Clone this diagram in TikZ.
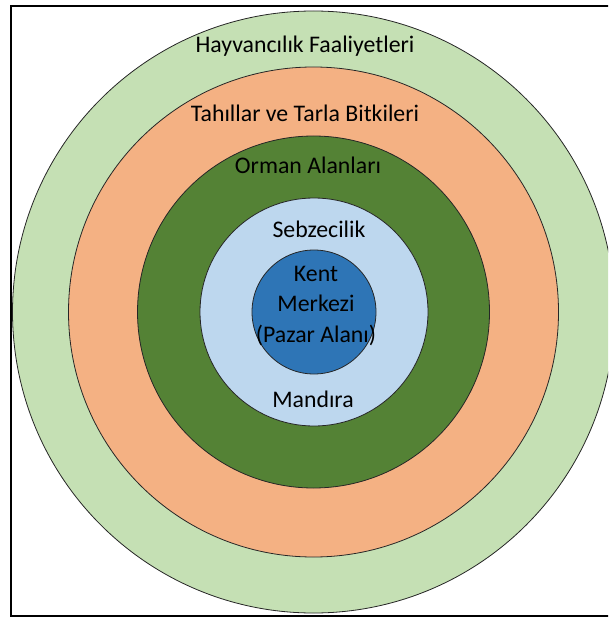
\documentclass[tikz,border=0pt]{standalone}
\usepackage{fontspec}
\setmainfont{Carlito}
\usepackage{xcolor}
\definecolor{hayvan}{HTML}{C5E0B4}
\definecolor{tahil}{HTML}{F4B183}
\definecolor{orman}{HTML}{548235}
\definecolor{sebze}{HTML}{BDD7EE}
\definecolor{kent}{HTML}{2E75B6}

\begin{document}
\begin{tikzpicture}[x=1pt,y=-1pt,
  ring/.style={circle,draw=black!85,line width=0.8pt,inner sep=0pt,minimum size=#1},
  lbl/.style={font=\fontsize{23.8}{30.5}\selectfont,text=black,inner sep=0pt,align=center}]
  \useasboundingbox (0,0) rectangle (608,617);
  \clip (0,0) rectangle (608,617);
  % frame
  \draw[line width=2pt] (11,6) rectangle (640,616);
  % rings, outside in
  \node[ring=602,fill=hayvan] (hayvanring) at (313.5,312) {};
  \node[ring=490,fill=tahil]  (tahilring)  at (313.5,312) {};
  \node[ring=352,fill=orman]  (ormanring)  at (313.5,312) {};
  \node[ring=228,fill=sebze]  (sebzering)  at (314,312) {};
  \node[ring=124,fill=kent]   (kentring)   at (314,312) {};
  % labels
  \node[lbl] (hayvanlbl) at (305,46)  {Hayvancılık Faaliyetleri};
  \node[lbl] (tahillbl)  at (305,113) {Tahıllar ve Tarla Bitkileri};
  \node[lbl] (ormanlbl)  at (308,165) {Orman Alanları};
  \node[lbl] (sebzelbl)  at (319,229) {Sebzecilik};
  \node[lbl] (kentlbl)   at (316,306) {Kent\\Merkezi\\(Pazar Alanı)};
  \node[lbl] (mandiralbl) at (313,399) {Mandıra};
\end{tikzpicture}
\end{document}
